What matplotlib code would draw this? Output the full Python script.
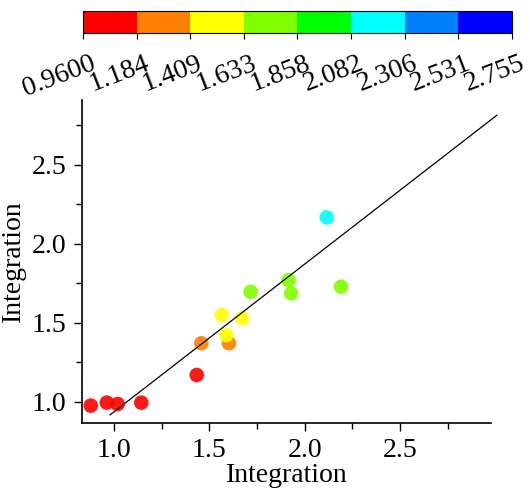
import matplotlib
matplotlib.use("Agg")
import matplotlib.pyplot as plt
import matplotlib.transforms as mtransforms
from matplotlib.colors import ListedColormap, BoundaryNorm
from matplotlib.cm import ScalarMappable

plt.rcParams['font.family'] = ['Liberation Serif', 'DejaVu Serif']

# measured vs predicted values (colour = predicted value)
x_vals = [0.878, 0.962, 1.019, 1.143, 1.434, 1.458, 1.603, 1.565, 1.589,
          1.673, 1.717, 1.916, 1.929, 2.191, 2.116]
y_vals = [0.975, 0.994, 0.985, 0.994, 1.169, 1.370, 1.370, 1.549, 1.422,
          1.528, 1.696, 1.770, 1.686, 1.728, 2.167]

# fitted line
fit_x = [0.979, 3.009]
fit_slope = 0.935
fit_intercept = 0.001

# colour scale
bounds = [0.96, 1.184, 1.409, 1.633, 1.858, 2.082, 2.306, 2.531, 2.755]
bound_labels = ['0.9600', '1.184', '1.409', '1.633', '1.858', '2.082',
                '2.306', '2.531', '2.755']
bin_colors = ['#ff0000', '#ff8000', '#ffff00', '#80ff00', '#00ff00',
              '#00ffff', '#0080ff', '#0000ff']

cmap = ListedColormap(bin_colors)
norm = BoundaryNorm(bounds, cmap.N)

fig = plt.figure(figsize=(5.3, 4.98), dpi=100)
ax = fig.add_axes([0.1547, 0.1506, 0.7717, 0.6484])

ax.scatter(x_vals, y_vals, c=y_vals, cmap=cmap, norm=norm, s=110,
           edgecolors='none', alpha=0.9, zorder=3)
fit_y = [fit_slope * v + fit_intercept for v in fit_x]
ax.plot(fit_x, fit_y, color='black', lw=0.9, clip_on=False, zorder=4)

ax.set_xlim(0.832, 2.978)
ax.set_ylim(0.865, 2.91)
ax.set_xticks([1.0, 1.5, 2.0, 2.5])
ax.set_yticks([1.0, 1.5, 2.0, 2.5])
ax.set_xticks([1.25, 1.75, 2.25, 2.75], minor=True)
ax.set_yticks([1.25, 1.75, 2.25, 2.75], minor=True)
ax.spines['top'].set_visible(False)
ax.spines['right'].set_visible(False)
for s in ['left', 'bottom']:
    ax.spines[s].set_linewidth(1.2)
ax.tick_params(which='major', direction='out', length=6, width=1.0,
               labelsize=20, pad=5)
ax.tick_params(which='minor', direction='out', length=4, width=1.0)
ax.set_xlabel('Integration', fontsize=20, labelpad=0)
ax.set_ylabel('Integration', fontsize=20, labelpad=4)

cax = fig.add_axes([0.1566, 0.9337, 0.8094, 0.0442])
sm = ScalarMappable(norm=norm, cmap=cmap)
cb = fig.colorbar(sm, cax=cax, orientation='horizontal', ticks=bounds)
cb.outline.set_linewidth(0.8)
cax.tick_params(direction='out', length=4, width=0.8, pad=9)
cax.set_xticks(bounds)
cax.set_xticklabels(bound_labels, fontsize=20, rotation=21,
                    ha='right', va='top', rotation_mode='anchor')
shift = mtransforms.ScaledTranslation(0.07, 0, fig.dpi_scale_trans)
for lab in cax.get_xticklabels():
    lab.set_transform(lab.get_transform() + shift)

fig.savefig('out.png', dpi=100)
